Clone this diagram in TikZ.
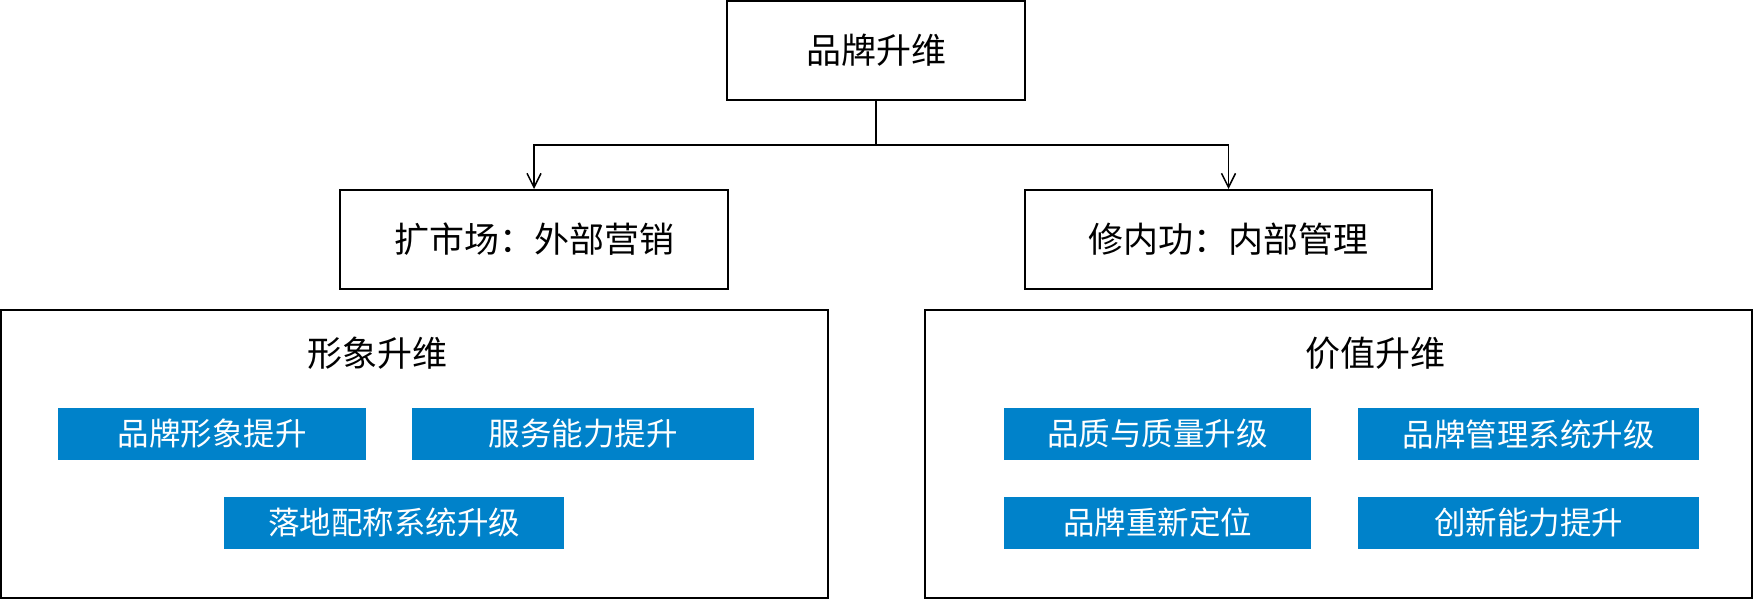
\documentclass[tikz,border=0pt]{standalone}
\usepackage{fontspec}
\setmainfont{Noto Sans CJK SC}
\usetikzlibrary{arrows.meta}
\definecolor{tagblue}{RGB}{0,130,202}
\begin{document}
\begin{tikzpicture}[
    x=0.5pt, y=-0.5pt,
    block/.style={rectangle, draw, line width=1pt, inner sep=0pt, minimum height=49.5pt, font=\fontsize{17.5pt}{20pt}\selectfont},
    panel/.style={rectangle, draw, line width=1pt, inner sep=0pt, minimum width=413.5pt, minimum height=144pt},
    title/.style={inner sep=0pt, font=\fontsize{17.5pt}{20pt}\selectfont},
    tag/.style={rectangle, fill=tagblue, text=white, inner sep=0pt, minimum height=26pt, font=\fontsize{15.75pt}{18pt}\selectfont},
    arrow/.style={-{Straight Barb[length=7pt,width=7pt]}, line width=0.75pt}
]
\useasboundingbox (0,0) rectangle (1754,600);

\node[block, minimum width=149pt] (brand) at (876,50.5) {品牌升维};
\node[block, minimum width=194pt] (ext) at (534,239.5) {扩市场：外部营销};
\node[block, minimum width=203.5pt] (int) at (1228.5,239.5) {修内功：内部管理};

\node[panel] (left) at (414.5,454) {};
\node[panel] (right) at (1338.5,454) {};

\node[title] (lt) at (377,353) {形象升维};
\node[title] (rt) at (1375,353) {价值升维};

\node[tag, minimum width=154pt] (l1) at (212,434) {品牌形象提升};
\node[tag, minimum width=171pt] (l2) at (583,434) {服务能力提升};
\node[tag, minimum width=170pt] (l3) at (394,522.5) {落地配称系统升级};

\node[tag, minimum width=153.5pt] (r1) at (1157.5,434) {品质与质量升级};
\node[tag, minimum width=170.5pt] (r2) at (1528.5,434) {品牌管理系统升级};
\node[tag, minimum width=153.5pt] (r3) at (1157.5,522.5) {品牌重新定位};
\node[tag, minimum width=170.5pt] (r4) at (1528.5,522.5) {创新能力提升};

\coordinate (split) at (876,145);
\draw[line width=0.75pt] (brand) -- (split);
\draw[arrow] (split) -| (ext);
\draw[arrow] (split) -| (int);
\end{tikzpicture}
\end{document}
